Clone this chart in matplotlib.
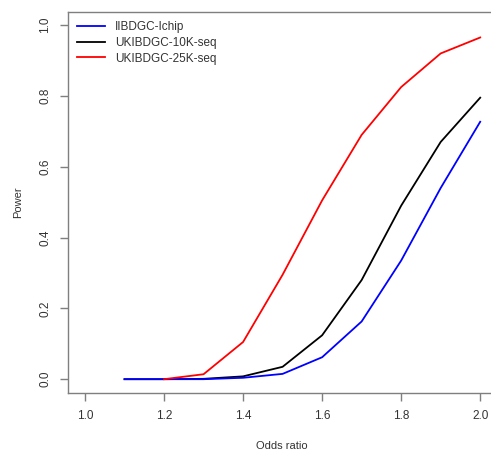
import matplotlib.pyplot as plt

plt.rcParams['font.family'] = ['Liberation Sans', 'DejaVu Sans']

# odds ratios and power per study
odds = [1.1, 1.2, 1.3, 1.4, 1.5, 1.6, 1.7, 1.8, 1.9, 2.0]
ichip = [0.0, 0.0, 0.0, 0.004, 0.015, 0.062, 0.163, 0.335, 0.54, 0.727]
seq10k = [0.0, 0.0, 0.001, 0.008, 0.035, 0.124, 0.28, 0.49, 0.67, 0.795]
odds25 = [1.2, 1.3, 1.4, 1.5, 1.6, 1.7, 1.8, 1.9, 2.0]
seq25k = [0.0, 0.014, 0.105, 0.295, 0.505, 0.69, 0.825, 0.92, 0.965]

grey = '#7f7f7f'
txt = '#333333'

fig = plt.figure(figsize=(4.91, 4.51), dpi=100)
ax = fig.add_axes([0.1385, 0.1286, 0.8717, 0.8448])

l2, = ax.plot(odds, seq10k, color='black', lw=1.3, label='UKIBDGC-10K-seq')
l1, = ax.plot(odds, ichip, color='blue', lw=1.3, label='IIBDGC-Ichip')
l3, = ax.plot(odds25, seq25k, color='red', lw=1.3, label='UKIBDGC-25K-seq')

ax.set_xlim(0.957, 2.04)
ax.set_ylim(-0.039, 1.037)
ax.set_xticks([1.0, 1.2, 1.4, 1.6, 1.8, 2.0])
ax.set_yticks([0.0, 0.2, 0.4, 0.6, 0.8, 1.0])
ax.set_xticklabels(['1.0', '1.2', '1.4', '1.6', '1.8', '2.0'])
ax.set_yticklabels(['0.0', '0.2', '0.4', '0.6', '0.8', '1.0'], rotation=90, va='center')
ax.tick_params(length=6, width=1, color=grey, labelcolor=txt, labelsize=8.5, pad=6)
for s in ax.spines.values():
    s.set_color(grey)
    s.set_linewidth(1)
ax.spines['right'].set_visible(False)

ax.set_xlabel('Odds ratio', fontsize=8, color=txt, labelpad=14)
ax.set_ylabel('Power', fontsize=8, color=txt, labelpad=12)

ax.legend(handles=[l1, l2, l3], loc='upper left', frameon=False, fontsize=8.5,
          handlelength=2.3, handletextpad=0.9, labelspacing=0.3,
          borderaxespad=0.4, labelcolor=txt)

fig.savefig('out.png', dpi=100)
